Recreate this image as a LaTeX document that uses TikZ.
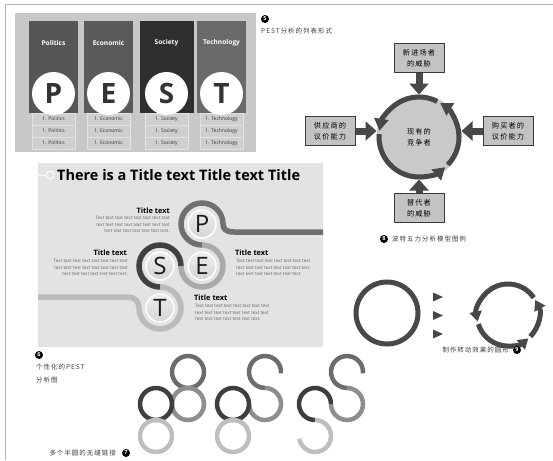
\documentclass[tikz,border=0pt]{standalone}
\usepackage{fontspec}
\setmainfont{Open Sans}
\newfontfamily\cjk[LetterSpace=15]{Noto Sans CJK SC}
\usetikzlibrary{arrows.meta}

\definecolor{framegray}{HTML}{B4B4B4}
\definecolor{tablegray}{HTML}{C8C8C8}
\definecolor{rowgray}{HTML}{CFCFCF}
\definecolor{rowedge}{HTML}{E2E2E2}
\definecolor{colP}{HTML}{565656}
\definecolor{colE}{HTML}{5A5A5A}
\definecolor{colS}{HTML}{2F2F2F}
\definecolor{colT}{HTML}{6A6A6A}
\definecolor{inkgray}{HTML}{333333}
\definecolor{capgray}{HTML}{3C3C3C}
\definecolor{boxgray}{HTML}{C3C3C3}
\definecolor{boxedge}{HTML}{3A3A3A}
\definecolor{ringdark}{HTML}{484848}
\definecolor{rivalgray}{HTML}{C9C9C9}
\definecolor{slidegray}{HTML}{E3E3E3}
\definecolor{bandP}{HTML}{707070}
\definecolor{bandE}{HTML}{AAAAAA}
\definecolor{bandS}{HTML}{404040}
\definecolor{bandT}{HTML}{BBBBBB}
\definecolor{discgray}{HTML}{D4D4D4}
\definecolor{bodygray}{HTML}{666666}
\definecolor{linkTop}{HTML}{6C6C6C}
\definecolor{linkLeft}{HTML}{3E3E3E}
\definecolor{linkRight}{HTML}{8E8E8E}
\definecolor{linkLow}{HTML}{BEBEBE}

\tikzset{
  caption/.style={font=\cjk\fontsize{6.5}{12.5}\selectfont, text=capgray, inner sep=0pt},
  numdot/.style={circle, fill=black, text=white, font=\bfseries\fontsize{5.5}{6}\selectfont, inner sep=0pt, minimum size=8pt},
  headtext/.style={text=white, font=\bfseries\fontsize{6.6}{8}\selectfont},
  rowtext/.style={text=inkgray, font=\fontsize{5}{6}\selectfont, inner sep=0pt},
  bigdisc/.style={circle, fill=white, minimum size=43pt, inner sep=0pt, text=inkgray, font=\bfseries\fontsize{28}{30}\selectfont},
  forcebox/.style={draw=boxedge, line width=1pt, fill=boxgray, minimum width=50pt, minimum height=29pt, align=center, inner sep=0pt, text=black, font=\cjk\fontsize{7.2}{11}\selectfont},
  rivaldisc/.style={circle, fill=rivalgray, minimum size=85pt, inner sep=0pt, outer sep=0pt, align=center, font=\cjk\fontsize{7.2}{11}\selectfont},
  force/.style={line width=7pt, draw=ringdark, -{Triangle[length=11pt,width=19pt]}},
  spin/.style={line width=5pt, draw=ringdark, -{Triangle[length=12pt,width=14pt]}},
  turn/.style={line width=5pt, draw=ringdark, -{Triangle[length=10pt,width=12pt]}},
  band/.style={line width=5.5pt},
  letterdisc/.style={circle, draw=white, line width=1.5pt, top color=discgray!40!white, bottom color=discgray, minimum size=28pt, inner sep=0pt, text=black!90, font=\fontsize{24}{26}\selectfont},
  slidehead/.style={inner sep=0pt, text=black, font=\bfseries\fontsize{7.4}{9}\selectfont},
  slidebody/.style={inner sep=0pt, text=bodygray, font=\fontsize{4.6}{6.5}\selectfont},
  link/.style={line width=4.5pt}
}

\begin{document}
\begin{tikzpicture}[x=1pt,y=-1pt]
\useasboundingbox (0,0) rectangle (553,460);

% page frame
\draw[framegray, line width=0.8pt] (553,4) -- (5,4) -- (5,460);

% 5: PEST list
\fill[tablegray] (15,13) rectangle (256,152);
\foreach \cx/\bw/\colr/\colname/\ltr [count=\i] in {53.5/49/colP/Politics/P, 108.5/49/colE/Economic/E, 166.5/54/colS/Society/S, 221.5/49/colT/Technology/T}{
  \fill[\colr] (\cx-\bw/2,21) rectangle (\cx+\bw/2,113);
  \node[headtext] (head\i) at (\cx,43) {\colname};
  \foreach \r in {0,1,2}{
    \draw[draw=rowedge, fill=rowgray, line width=0.6pt] (\cx-21.5,113+12*\r) rectangle ++(43,12);
    \node[rowtext] at (\cx,119+12*\r) {1. \colname};
  }
  \node[bigdisc] (disc\i) at (\cx,93.5) {\ltr};
}
\node[numdot] (num5) at (265,19) {5};
\node[caption, anchor=west] (cap5) at (261,31) {PEST分析的列表形式};

% 8: five forces
\node[rivaldisc] (rival) at (419,137) {现有的\\竞争者};
\node[forcebox] (entrant) at (419,58) {新进场者\\的威胁};
\node[forcebox] (supplier) at (330,131) {供应商的\\议价能力};
\node[forcebox] (buyer) at (508,131) {购买者的\\议价能力};
\node[forcebox] (substitute) at (419,208) {替代者\\的威胁};
\draw[force] (entrant) -- (rival);
\draw[force] (supplier) -- (supplier.east -| rival.west);
\draw[force] (buyer) -- (buyer.west -| rival.east);
\draw[force] (substitute) -- (rival);
\draw[spin] (rival.center) ++(44:40) arc[start angle=44, end angle=-58, radius=40];
\draw[spin] (rival.center) ++(-63:40) arc[start angle=-63, end angle=-171, radius=40];
\draw[spin] (rival.center) ++(-176:40) arc[start angle=-176, end angle=-311, radius=40];
\node[numdot] (num8) at (384,239) {8};
\node[caption, anchor=west] (cap8) at (392,239) {波特五力分析模型图例};

% 6: PEST slide
\fill[slidegray] (38,163) rectangle (323,347);
\coordinate (slideedge) at (38,175);
\node[circle, draw=white, line width=1pt, minimum size=8pt, inner sep=0pt] (bullet) at (50,175) {};
\draw[white, line width=1pt] (slideedge) -- (bullet);
\node[anchor=west, inner sep=0pt, font=\bfseries\fontsize{14.5}{16}\selectfont] (title) at (57,175) {There is a Title text Title text Title};

\draw[band, bandT] (160,287) arc[start angle=-90, end angle=180, radius=21]
  .. controls (139,302) and (135,297) .. (128,297) -- (38,297);
\draw[band, bandE] (202,245) arc[start angle=-90, end angle=180, radius=21];
\draw[band, bandP] (323,232) -- (234,232) .. controls (226,232) and (223,229) .. (223,224)
  arc[start angle=0, end angle=-270, radius=21];
\draw[band, bandS] (181,266) arc[start angle=0, end angle=-270, radius=21];

\node[letterdisc] (discP) at (202,224) {P};
\node[letterdisc] (discE) at (202,266) {E};
\node[letterdisc] (discS) at (160,266) {S};
\node[letterdisc] (discT) at (160,308) {T};

\node[slidehead, anchor=base east] (headP) at (170,213.5) {Title text};
\node[slidebody, anchor=north east, align=right] (bodyP) at (170,216.5) {Text text text text text text text text\\text text text text text text text text\\text text text text text text text.};
\node[slidehead, anchor=base east] (headS) at (127,255.5) {Title text};
\node[slidebody, anchor=north east, align=right] (bodyS) at (128,259.5) {Text text text text text text text text\\text text text text text text text text\\text text text text text text text.};
\node[slidehead, anchor=base west] (headE) at (235,255.5) {Title text};
\node[slidebody, anchor=north west, align=left] (bodyE) at (236,259.5) {Text text text text text text text text\\text text text text text text text text\\text text text text text text text.};
\node[slidehead, anchor=base west] (headT) at (194,300.5) {Title text};
\node[slidebody, anchor=north west, align=left] (bodyT) at (195,304.5) {Text text text text text text text text\\text text text text text text text text\\text text text text text text text.};

\node[numdot] (num6) at (39,355) {6};
\node[caption, anchor=north west, align=left] (cap6) at (36,364) {个性化的PEST\\分析图};

% 7: joined half circles
\draw[link, linkTop] (188,372) circle[radius=16];
\draw[link, linkRight] (188,404) circle[radius=16];
\draw[link, linkLeft] (156,404) circle[radius=16];
\draw[link, linkLow] (156,436) circle[radius=16];

\draw[link, linkTop] (265,372) ++(5:16) arc[start angle=5, end angle=-270, radius=16];
\draw[link, linkRight] (265,388) arc[start angle=-90, end angle=180, radius=16];
\draw[link, linkLeft] (233,404) circle[radius=16];
\draw[link, linkLow] (233,436) circle[radius=16];

\draw[link, linkTop] (347,372) ++(5:16) arc[start angle=5, end angle=-270, radius=16];
\draw[link, linkRight] (347,388) arc[start angle=-90, end angle=180, radius=16];
\draw[link, linkLeft] (331,404) arc[start angle=0, end angle=-270, radius=16];
\draw[link, linkLow] (315,420) arc[start angle=-90, end angle=170, radius=16];

\node[numdot] (num7) at (126,453) {7};
\node[caption, anchor=east] (cap7) at (116,453) {多个半圆的无缝链接};

% 9: turning ring
\draw[line width=5pt, ringdark] (387,313) circle[radius=31];
\foreach \ty in {297,315.5,334}
  \fill[ringdark] (433,\ty-4.5) -- (443,\ty) -- (433,\ty+4.5) -- cycle;
\coordinate (wheel) at (508,315);
\draw[turn] (wheel) ++(44:31) arc[start angle=44, end angle=-29, radius=31];
\draw[turn] (wheel) ++(-34:31) arc[start angle=-34, end angle=-192, radius=31];
\draw[turn] (wheel) ++(-197:31) arc[start angle=-197, end angle=-311, radius=31];
\node[numdot] (num9) at (517,350) {9};
\node[caption, anchor=east] (cap9) at (509,350) {制作转动效果的圆形};

\end{tikzpicture}
\end{document}
